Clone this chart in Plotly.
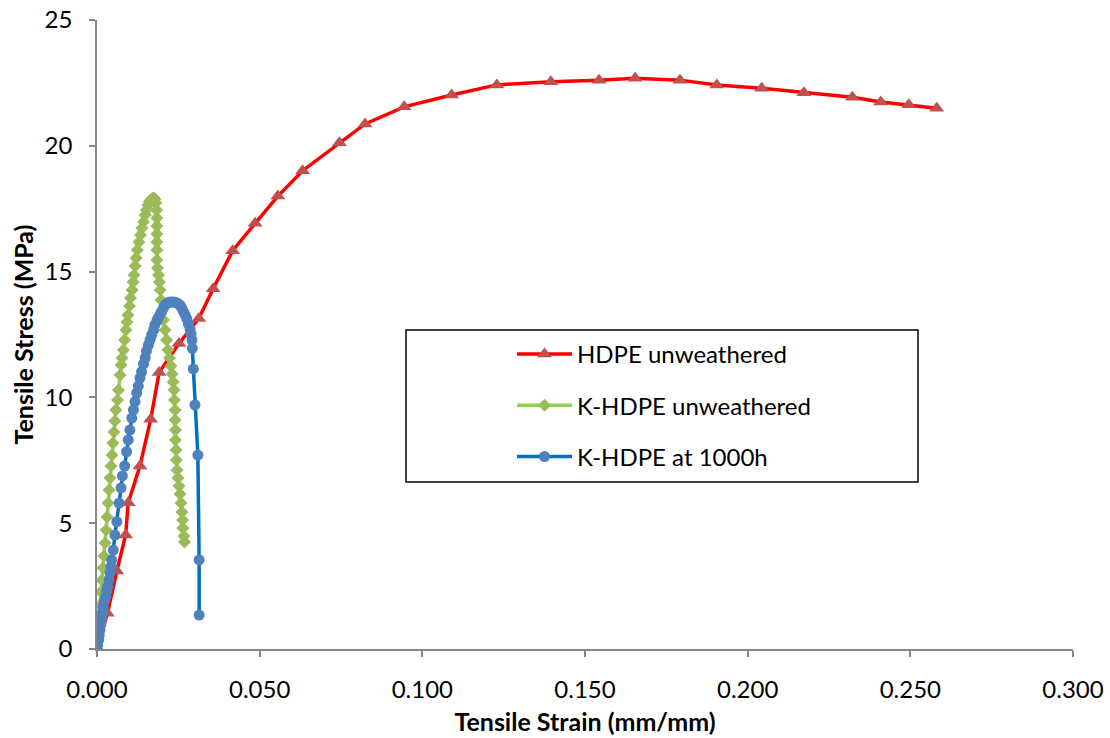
import plotly.graph_objects as go

# HDPE unweathered: strain (mm/mm) vs stress (MPa)
hdpe_strain = [0.0, 0.0032, 0.0061, 0.0088, 0.0096, 0.0132, 0.0165, 0.0191, 0.0252,
               0.0313, 0.0357, 0.0417, 0.0486, 0.0556, 0.0632, 0.0745, 0.0824,
               0.0944, 0.1090, 0.1229, 0.1395, 0.1543, 0.1654, 0.1792, 0.1905,
               0.2043, 0.2173, 0.2322, 0.2409, 0.2495, 0.2581]
hdpe_stress = [0.0, 1.42, 3.10, 4.53, 5.81, 7.27, 9.13, 10.99, 12.14,
               13.14, 14.32, 15.83, 16.92, 18.00, 19.01, 20.12, 20.87,
               21.55, 22.02, 22.42, 22.55, 22.61, 22.68, 22.61, 22.42,
               22.29, 22.11, 21.93, 21.74, 21.63, 21.49]

# K-HDPE unweathered
khdpe_strain = [0.0, 0.00015, 0.0003, 0.0006, 0.0009, 0.0012, 0.0015, 0.0018, 0.0021,
                0.0025, 0.0028, 0.0031, 0.0034, 0.0037, 0.0040, 0.0043, 0.0046,
                0.0049, 0.0052, 0.0055, 0.0058, 0.0063, 0.0066, 0.0071, 0.0074,
                0.0077, 0.0081, 0.0085, 0.0089, 0.0092, 0.0095, 0.0100, 0.0103,
                0.0108, 0.0111, 0.0114, 0.0117, 0.0120, 0.0124, 0.0129, 0.0134,
                0.0138, 0.0143, 0.0148, 0.0152, 0.0157, 0.0161, 0.0166, 0.0171,
                0.0175,
                0.0178, 0.0181, 0.0183, 0.0184, 0.0184, 0.0184, 0.0184, 0.0184,
                0.0184, 0.0186, 0.0189, 0.0192, 0.0194, 0.0197, 0.0200, 0.0204,
                0.0209, 0.0214, 0.0218, 0.0223, 0.0227, 0.0231, 0.0234, 0.0237,
                0.0238, 0.0240, 0.0240, 0.0241, 0.0241, 0.0243, 0.0244, 0.0246,
                0.0249, 0.0252, 0.0255, 0.0258, 0.0261, 0.0263, 0.0264, 0.0267,
                0.0269]
khdpe_stress = [0.0, 0.36, 0.76, 1.23, 1.75, 2.27, 2.74, 3.22, 3.70,
                4.21, 4.73, 5.25, 5.80, 6.32, 6.80, 7.27, 7.71,
                8.19, 8.62, 9.06, 9.50, 9.90, 10.29, 10.89, 11.29,
                11.57, 11.88, 12.28, 12.68, 13.00, 13.28, 13.63, 13.95,
                14.27, 14.59, 14.86, 15.22, 15.54, 15.86, 16.18, 16.45,
                16.73, 16.97, 17.25, 17.45, 17.65, 17.79, 17.87, 17.92,
                17.93,
                17.88, 17.73, 17.45, 17.13, 16.81, 16.49, 16.18, 15.86,
                15.46, 15.14, 14.86, 14.59, 14.27, 13.87, 13.47, 13.08,
                12.68, 12.28, 11.88, 11.57, 11.25, 10.93, 10.61, 10.29,
                9.90, 9.50, 9.10, 8.70, 8.31, 7.91, 7.51, 7.11,
                6.80, 6.48, 6.16, 5.80, 5.45, 5.13, 4.81, 4.49,
                4.25]

# K-HDPE after 1000 h weathering
aged_strain = [0.0, 0.0002, 0.0005, 0.0007, 0.0009, 0.0012, 0.0014, 0.0017, 0.0019,
               0.0023, 0.0027, 0.0030, 0.0033, 0.0037, 0.0040, 0.0043, 0.0045,
               0.0050, 0.0055, 0.0061, 0.0068, 0.0074, 0.0078, 0.0085, 0.0091,
               0.0096, 0.0101, 0.0107, 0.0112, 0.0117, 0.0122, 0.0127, 0.0132,
               0.0137, 0.0143, 0.0148, 0.0152, 0.0158, 0.0163, 0.0168, 0.0174,
               0.0178, 0.0184, 0.0188, 0.0194, 0.0199, 0.0204, 0.0209, 0.0214,
               0.0220, 0.0224, 0.0231, 0.0237, 0.0243, 0.0249, 0.0255, 0.0260,
               0.0265, 0.0271, 0.0276, 0.0281, 0.0286, 0.0289, 0.0292, 0.0293,
               0.0296, 0.0301, 0.0310, 0.0314, 0.0314]
aged_stress = [0.0, 0.16, 0.36, 0.56, 0.76, 0.99, 1.23, 1.47, 1.68,
               1.91, 2.08, 2.31, 2.48, 2.74, 3.02, 3.27, 3.54,
               3.93, 4.53, 5.06, 5.80, 6.40, 6.88, 7.27, 7.84,
               8.31, 8.70, 9.18, 9.50, 9.83, 10.17, 10.45, 10.77,
               11.02, 11.33, 11.57, 11.84, 12.08, 12.28, 12.48, 12.68,
               12.88, 13.04, 13.16, 13.30, 13.41, 13.55, 13.67, 13.73,
               13.77, 13.79, 13.79, 13.79, 13.77, 13.73, 13.67, 13.57,
               13.43, 13.28, 13.12, 12.92, 12.72, 12.52, 12.28, 11.95,
               11.13, 9.70, 7.71, 3.54, 1.35]

FONT = "Lato"
AXIS_GRAY = "#868686"

fig = go.Figure()

fig.add_trace(go.Scatter(
    x=hdpe_strain, y=hdpe_stress, mode="lines+markers", name="HDPE unweathered",
    legendgroup="a",
    line=dict(color="#FF0000", width=3.5),
    marker=dict(symbol="triangle-up", size=13, color="#C0504D"),
))
fig.add_trace(go.Scatter(
    x=khdpe_strain, y=khdpe_stress, mode="lines+markers", name="K-HDPE unweathered",
    legendgroup="b",
    line=dict(color="#92D050", width=3.5),
    marker=dict(symbol="diamond", size=10, color="#9BBB59"),
))
fig.add_trace(go.Scatter(
    x=aged_strain, y=aged_stress, mode="lines+markers", name="K-HDPE at 1000h",
    legendgroup="c",
    line=dict(color="#0070C0", width=3.5),
    marker=dict(symbol="circle", size=11, color="#4F81BD"),
))

# Legend frame
fig.add_shape(type="rect", xref="paper", yref="paper",
              x0=(406 - 97) / 976, x1=(918 - 97) / 976,
              y0=(649 - 482) / 629, y1=(649 - 330) / 629,
              line=dict(color="black", width=1.5), fillcolor="rgba(0,0,0,0)")

fig.update_layout(
    width=1110, height=738,
    margin=dict(l=97, r=37, t=20, b=89),
    paper_bgcolor="white", plot_bgcolor="white",
    font=dict(family=FONT, size=24, color="#000000"),
    showlegend=True,
    legend=dict(
        x=(512 - 97) / 976, y=(649 - 332) / 629, xanchor="left", yanchor="top",
        bgcolor="rgba(0,0,0,0)", borderwidth=0,
        font=dict(family=FONT, size=24, color="#000000"),
        itemwidth=55, tracegroupgap=17, traceorder="grouped",
    ),
    xaxis=dict(
        range=[0, 0.3], dtick=0.05, tickformat=".3f",
        showline=True, linecolor=AXIS_GRAY, linewidth=1.5,
        ticks="outside", ticklen=6, tickcolor=AXIS_GRAY, tickwidth=1.5,
        showgrid=False, zeroline=False, automargin=False,
        ticklabelstandoff=12,
        title=dict(text="<b>Tensile Strain (mm/mm)</b>", font=dict(size=25), standoff=12),
    ),
    yaxis=dict(
        range=[0, 25], dtick=5,
        showline=True, linecolor=AXIS_GRAY, linewidth=1.5,
        ticks="outside", ticklen=6, tickcolor=AXIS_GRAY, tickwidth=1.5,
        showgrid=False, zeroline=False, automargin=False,
        ticklabelstandoff=12,
        title=dict(text="<b>Tensile Stress (MPa)</b>", font=dict(size=25), standoff=4),
    ),
)

fig.write_html("out.html")
